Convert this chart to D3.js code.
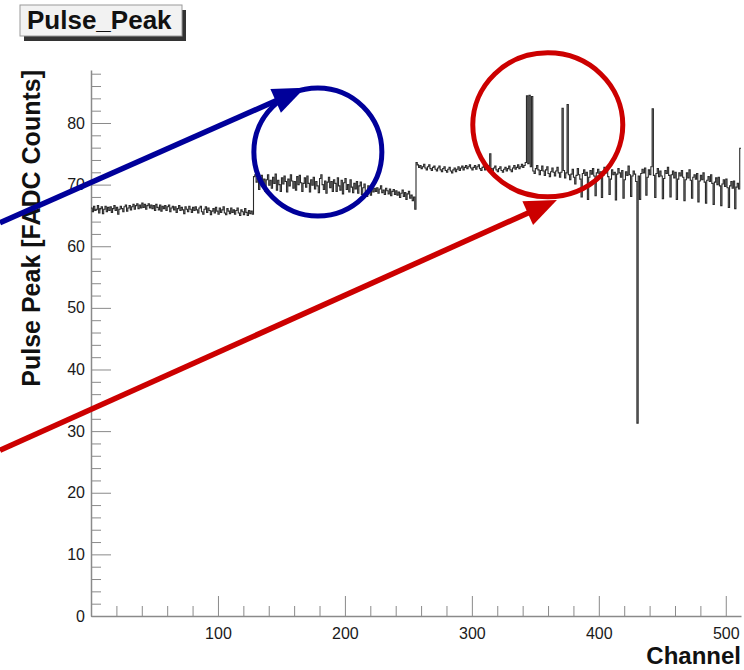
<!DOCTYPE html>
<html><head><meta charset="utf-8">
<script src="https://cdn.jsdelivr.net/npm/d3@7"></script>
<style>body{margin:0;background:#fff}svg{display:block}</style>
</head><body>
<svg id="c" width="744" height="670"></svg>
<script>
// ---- data ----
const histTitle = "Pulse_Peak";
const xTitle = "Channel";
const yTitle = "Pulse Peak [FADC Counts]";
const xRange = [0, 512];
const yRange = [0, 88.6];
const xTickValues = [100, 200, 300, 400, 500];
const yTickValues = [0, 10, 20, 30, 40, 50, 60, 70, 80];
// pulse peak per channel (0..511)
const counts = [
66.2,65.6,66.5,65.8,66.0,66.6,65.4,66.1,66.4,65.3,66.0,66.5,65.6,66.3,65.8,66.4,
65.5,66.1,66.6,65.8,66.3,65.2,66.0,66.5,66.1,65.6,66.4,66.7,65.7,66.2,66.6,65.9,
66.4,66.8,66.0,66.6,66.9,66.1,66.7,66.2,67.0,66.3,66.8,66.0,66.6,66.9,66.2,66.7,
66.1,66.6,65.8,66.8,66.3,65.9,66.7,65.7,66.5,66.1,66.6,65.8,66.4,66.7,65.6,66.2,
66.5,65.9,66.4,65.5,66.1,66.6,65.8,66.3,65.9,65.3,66.4,66.0,65.6,66.5,66.0,65.5,
66.3,65.8,66.4,65.9,65.4,66.2,66.5,65.6,65.2,66.0,66.4,65.5,66.2,65.8,65.1,65.7,
66.1,65.4,66.3,65.7,65.2,66.2,65.5,65.9,66.4,65.4,65.1,66.1,65.7,65.3,66.2,65.5,
65.9,65.2,65.8,66.2,65.4,65.0,65.9,65.6,65.1,66.1,65.5,65.0,65.8,65.3,65.7,65.2,
71.3,71.6,70.4,71.0,69.2,70.6,71.5,70.1,70.9,68.9,70.8,71.6,69.9,70.7,69.4,71.2,
70.2,71.7,69.1,70.7,70.0,68.9,71.1,70.1,71.4,70.5,68.8,70.9,69.8,71.6,70.6,69.4,
70.5,69.1,71.3,70.0,71.5,70.3,68.9,70.2,71.1,69.6,71.4,70.2,68.8,70.8,69.9,71.2,
69.3,70.5,69.8,68.7,71.0,71.6,70.0,69.2,70.6,68.6,70.4,71.2,69.5,70.5,68.9,70.8,
70.2,68.9,71.1,69.8,69.1,70.7,68.5,70.3,71.0,69.2,70.0,68.8,70.8,69.6,68.7,70.2,
69.3,70.5,68.6,69.8,70.4,68.4,69.5,70.1,68.9,68.1,69.8,69.1,68.3,69.7,68.8,69.4,
68.9,69.5,68.6,69.3,69.8,68.7,69.1,68.4,69.4,69.0,68.5,69.3,68.2,68.9,69.2,68.4,
69.0,68.3,68.8,67.9,68.6,69.1,68.1,68.7,67.6,68.5,68.9,67.8,68.3,67.4,68.0,66.0,
73.6,73.2,72.8,73.1,72.6,72.9,73.3,72.7,72.4,72.9,73.2,72.6,72.3,72.8,73.0,72.5,
72.2,72.7,73.0,72.4,72.1,72.6,72.9,72.3,72.0,72.5,72.8,72.2,71.9,72.4,72.7,72.1,
72.5,72.9,72.3,72.7,73.0,72.4,72.8,73.1,72.6,72.9,73.2,72.7,72.4,72.8,73.1,72.5,
72.9,73.2,72.6,72.3,72.8,73.0,72.4,72.7,73.1,72.5,75.0,72.6,72.2,72.7,73.0,72.4,
72.1,72.6,72.9,72.3,72.0,72.5,72.8,72.2,72.6,73.0,72.4,72.1,72.7,73.1,72.5,72.8,
73.2,72.6,72.9,73.3,72.8,73.1,73.6,84.4,73.4,84.5,72.9,84.3,72.2,71.8,72.6,73.1,
72.4,71.6,72.3,73.0,72.2,71.5,72.4,72.9,71.8,71.3,72.1,72.7,72.0,71.4,72.2,72.8,
71.9,71.2,72.0,82.4,72.3,71.1,71.9,83.0,71.6,70.8,71.7,72.5,71.2,70.1,71.5,72.6,
71.6,70.9,68.0,71.8,72.4,71.5,72.0,67.6,71.2,72.3,71.7,72.6,71.4,68.2,71.9,72.5,
71.8,72.1,67.9,71.5,72.8,71.9,72.2,71.3,68.4,70.9,72.4,71.6,72.0,67.5,71.7,72.6,
71.9,71.2,72.3,67.8,70.8,72.1,71.5,73.0,71.6,68.1,71.4,72.2,71.7,70.5,31.3,71.4,
67.6,71.8,72.5,71.9,72.7,68.3,71.2,72.4,71.6,72.9,82.3,71.5,67.9,71.8,72.6,71.3,
72.2,71.4,67.7,71.0,72.3,71.8,72.8,71.5,68.0,71.6,72.2,71.1,72.0,67.6,70.9,71.9,
71.4,72.3,71.2,67.4,70.8,71.9,71.1,72.4,70.7,67.8,71.2,71.6,70.9,71.8,67.2,70.6,
71.5,70.8,71.9,70.4,67.0,70.7,71.3,70.5,71.6,70.2,66.8,70.4,71.1,70.0,71.2,69.8,
66.6,70.1,70.8,69.7,70.9,69.5,66.3,69.8,70.5,69.4,70.6,66.1,69.6,70.2,69.3,75.9
];
// annotations (in data units: channel, counts)
const blueCircle = {cx: 178.7, cy: 75.3};
const blueArrow = {from: [-71.7, 63.8], to: [168.5, 85.7]};
const redEllipse = {cx: 359.8, cy: 79.7};
const redArrow = {from: [-71.7, 26.9], to: [367.0, 67.5]};

// ---- drawing ----
const svg = d3.select("#c");
const L = 91, R = 741, T = 70, B = 616;
const x = d3.scaleLinear().domain(xRange).range([L, R]);
const y = d3.scaleLinear().domain(yRange).range([B, T]);
const axisColor = "#8a8a8a";
const font = "'Liberation Sans', Arial, Helvetica, sans-serif";

// minor ticks
const xMinor = d3.range(20, 512, 20).filter(v => v % 100 !== 0);
const yMinor = d3.range(2, 88.6, 2).filter(v => v % 10 !== 0);
const gxm = svg.append("g").attr("transform", `translate(0,${B})`)
  .call(d3.axisBottom(x).tickValues(xMinor).tickSizeInner(-10).tickSizeOuter(0).tickFormat(""));
const gym = svg.append("g").attr("transform", `translate(${L},0)`)
  .call(d3.axisLeft(y).tickValues(yMinor).tickSizeInner(-10).tickSizeOuter(0).tickFormat(""));
[gxm, gym].forEach(g => { g.select(".domain").remove(); g.selectAll("line").attr("stroke", axisColor); });

// major axes
const gx = svg.append("g").attr("transform", `translate(0,${B})`)
  .call(d3.axisBottom(x).tickValues(xTickValues).tickSizeInner(-20).tickSizeOuter(0).tickPadding(12));
const gy = svg.append("g").attr("transform", `translate(${L},0)`)
  .call(d3.axisLeft(y).tickValues(yTickValues).tickSizeInner(-20).tickSizeOuter(0).tickPadding(6));
[gx, gy].forEach(g => {
  g.select(".domain").attr("stroke", axisColor).attr("stroke-width", 1.5);
  g.selectAll("line").attr("stroke", axisColor);
  g.selectAll("text").attr("font-family", font).attr("font-size", 16).attr("fill", "#1a1a1a");
});

// histogram (step line)
const pts = counts.map((v, i) => [i, v]);
pts.push([counts.length, counts[counts.length - 1]]);
svg.append("path").datum(pts)
  .attr("fill", "none").attr("stroke", "#2a2a2a").attr("stroke-width", 1.1)
  .attr("d", d3.line().x(d => x(d[0])).y(d => y(d[1])).curve(d3.curveStepAfter));

// axis titles
svg.append("text").attr("x", R).attr("y", 664).attr("text-anchor", "end")
  .attr("font-family", font).attr("font-weight", "bold").attr("font-size", 24).attr("fill", "#111")
  .text(xTitle);
svg.append("text").attr("transform", `translate(40,${T}) rotate(-90)`).attr("text-anchor", "end")
  .attr("font-family", font).attr("font-weight", "bold").attr("font-size", 25).attr("fill", "#111")
  .text(yTitle);

// title box
svg.append("rect").attr("x", 24).attr("y", 10).attr("width", 162).attr("height", 31).attr("fill", "#333");
svg.append("rect").attr("x", 20).attr("y", 5).attr("width", 162).attr("height", 31)
  .attr("fill", "#f2f2f2").attr("stroke", "#9a9a9a").attr("stroke-width", 1);
svg.append("text").attr("x", 27).attr("y", 29)
  .attr("font-family", font).attr("font-weight", "bold").attr("font-size", 26).attr("fill", "#111")
  .text(histTitle);

// annotations
function arrow(a, color) {
  const x0 = x(a.from[0]), y0 = y(a.from[1]), x1 = x(a.to[0]), y1 = y(a.to[1]);
  const len = Math.hypot(x1 - x0, y1 - y0), ux = (x1 - x0) / len, uy = (y1 - y0) / len;
  const hl = 32, hw = 13;
  const bx = x1 - ux * hl, by = y1 - uy * hl;
  svg.append("line").attr("x1", x0).attr("y1", y0).attr("x2", bx + ux * 4).attr("y2", by + uy * 4)
    .attr("stroke", color).attr("stroke-width", 5.5);
  svg.append("path").attr("fill", color)
    .attr("d", `M${x1},${y1}L${bx - uy * hw},${by + ux * hw}L${bx + uy * hw},${by - ux * hw}Z`);
}
svg.append("ellipse").attr("cx", x(blueCircle.cx)).attr("cy", y(blueCircle.cy)).attr("rx", 64).attr("ry", 64)
  .attr("fill", "none").attr("stroke", "#00009a").attr("stroke-width", 5);
arrow(blueArrow, "#00009a");
svg.append("ellipse").attr("cx", x(redEllipse.cx)).attr("cy", y(redEllipse.cy)).attr("rx", 75).attr("ry", 72)
  .attr("fill", "none").attr("stroke", "#cc0000").attr("stroke-width", 5);
arrow(redArrow, "#cc0000");
</script>
</body></html>
